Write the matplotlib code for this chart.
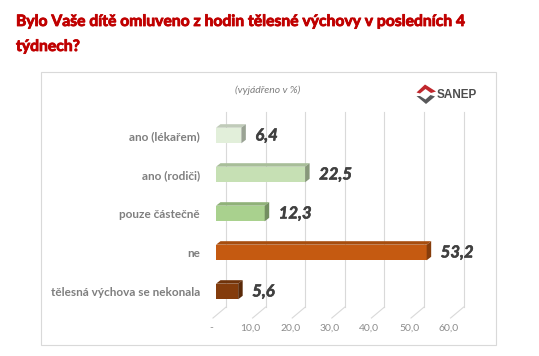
import matplotlib
matplotlib.use('Agg')
import matplotlib.pyplot as plt
import matplotlib.patheffects as pe
from matplotlib.patches import Polygon, Rectangle
from matplotlib.colors import to_rgb
from matplotlib.transforms import ScaledTranslation

categories = ['ano (lékařem)', 'ano (rodiči)', 'pouze částečně', 'ne',
              'tělesná výchova se nekonala']
values = [6.4, 22.5, 12.3, 53.2, 5.6]
value_labels = ['6,4', '22,5', '12,3', '53,2', '5,6']
tick_values = [0, 10, 20, 30, 40, 50, 60]
tick_labels = ['-', '10,0', '20,0', '30,0', '40,0', '50,0', '60,0']
colors = ['#e2efda', '#c6e0b4', '#a9d18e', '#c55a11', '#843c0c']

plt.rcParams['font.family'] = ['Lato', 'DejaVu Sans']

W, H = 539, 356
fig = plt.figure(figsize=(W / 100, H / 100), dpi=100)


def shade(c, f):
    r, g, b = to_rgb(c)
    return (r * f, g * f, b * f)


# background layer in pixel units (frame, title, logo)
bg = fig.add_axes([0, 0, 1, 1])
bg.set_xlim(0, W)
bg.set_ylim(H, 0)
bg.axis('off')

title_fx = [pe.withStroke(linewidth=0.6, foreground='#c00000')]
bg.text(16, 26, 'Bylo Vaše dítě omluveno z hodin tělesné výchovy v posledních 4',
        color='#c00000', fontsize=11.3, fontweight='bold', va='baseline',
        path_effects=title_fx)
bg.text(16, 51, 'týdnech?', color='#c00000', fontsize=11.3, fontweight='bold',
        va='baseline', path_effects=title_fx)
bg.add_patch(Rectangle((40.5, 71.5), 455.5, 273.5, fill=False,
                       ec='#d9d9d9', lw=0.8))
bg.text(268, 90, '(vyjádřeno v %)', ha='center', va='center', style='italic',
        color='#7f7f7f', fontsize=7.5)

# SANEP logo
bg.add_patch(Polygon([(416.5, 92.5), (425, 84.5), (436, 91.5), (431, 93),
                      (425.5, 89), (420, 93.5)], closed=True,
                     fc='#c0272d', ec='none'))
bg.add_patch(Polygon([(420, 96), (425.5, 99.5), (430.5, 95), (435, 96.5),
                      (426, 104), (416.5, 96)], closed=True,
                     fc='#58585a', ec='none'))
bg.text(437, 94.5, 'SANEP', family='Liberation Sans', fontweight='bold',
        fontsize=8.5, color='#4d4d4d', va='center', ha='left')

# main chart
ax = fig.add_axes([216 / W, 1 - 320 / H, 237.6 / W, 220 / H])
ax.set_xlim(0, 60)
ax.set_ylim(4.731, -0.910)
ax.patch.set_alpha(0)
for s in ax.spines.values():
    s.set_visible(False)

ux = 60 / 237.6
uy = (4.731 + 0.910) / 220

# back wall gridlines and floor lines
for v in tick_values:
    xb = v + 10 * ux
    ax.plot([xb, xb], [-0.6, 4.4], color='#d9d9d9', lw=0.8, clip_on=False,
            zorder=1)
    ax.plot([xb, v - 3 * ux], [4.4, 4.68], color='#d9d9d9', lw=0.8,
            clip_on=False, zorder=1)

h = 0.4
dx, dy = 4.5 * ux, 3.5 * uy
ypos = list(range(len(values)))
ax.barh(ypos, values, height=h, color=colors, zorder=3)
for y, v, c in zip(ypos, values, colors):
    top = y - h / 2
    bot = y + h / 2
    ax.add_patch(Polygon([(0, top), (v, top), (v + dx, top - dy), (dx, top - dy)],
                         closed=True, fc=shade(c, 0.85), ec='none', zorder=3))
    ax.add_patch(Polygon([(v, top), (v + dx, top - dy), (v + dx, bot - dy), (v, bot)],
                         closed=True, fc=shade(c, 0.68), ec='none', zorder=3))

val_fx = [pe.withStroke(linewidth=0.4, foreground='#404040')]
for y, v, lbl in zip(ypos, values, value_labels):
    ax.annotate(lbl, xy=(v, y), xytext=(14, 0), textcoords='offset pixels',
                ha='left', va='center', fontsize=12, fontweight='bold',
                style='italic', color='#404040', annotation_clip=False,
                path_effects=val_fx)

ax.set_yticks(ypos, categories)
ax.tick_params(axis='y', length=0, pad=11.5, labelsize=8.5, labelcolor='#7f7f7f')
for lbl in ax.get_yticklabels():
    lbl.set_fontweight('bold')

ax.set_xticks(tick_values, tick_labels)
ax.tick_params(axis='x', length=0, pad=2.5, labelsize=7.5, labelcolor='#8c8c8c')
for lbl in ax.get_xticklabels():
    lbl.set_transform(lbl.get_transform() + ScaledTranslation(-5 / 100, 0, fig.dpi_scale_trans))

fig.savefig('out.png', dpi=100)
